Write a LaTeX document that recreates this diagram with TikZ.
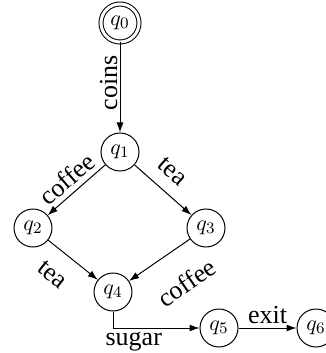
\documentclass[tikz,border=0pt]{standalone}
\usepackage{fontspec}
\setmainfont{Liberation Serif}
\usetikzlibrary{positioning}
\usetikzlibrary{arrows.meta}
\newcommand{\Istate}{q}
\tikzstyle{st} = [circle,draw=black,inner sep=1pt,minimum size=19pt, line width=0.5pt, font=\fontsize{11}{11}\selectfont]
\tikzstyle{stI} = [st, double, double distance=1.5pt]
\tikzstyle{trans} = [-{Latex[length=5pt,width=3.5pt]}, line width=0.5pt]
\tikzstyle{lbl} = [font=\fontsize{13}{13}\selectfont, inner sep=1pt]

\begin{document}
\begin{tikzpicture}[on grid]
\useasboundingbox (-60pt,11.5pt) rectangle (103pt,-165pt);

% Define nodes
\node[stI]                                         (q0) {$\Istate_0$};
\node[st, below = 64.5pt of q0]                    (q1) {$\Istate_1$};
\node[st, below left = 38pt and 43.5pt of q1]      (q2) {$\Istate_2$};
\node[st, below right = 38pt and 43pt of q1]       (q3) {$\Istate_3$};
\node[st, below right = 32pt and 40pt of q2]       (q4) {$\Istate_4$};
\node[st, below right = 18pt and 53pt of q4]       (q5) {$\Istate_5$};
\node[st, right = 48.5pt of q5]                    (q6) {$\Istate_6$};

% Edges
\draw[trans] (q0) -- node[lbl, midway, rotate=90, above=2.3pt] {coins} (q1);
\draw[trans] (q1) -- node[lbl, sloped, above=1.5pt] {coffee} (q2);
\draw[trans] (q1) -- node[lbl, sloped, pos=0.43, above=5pt] {tea} (q3);
\draw[trans] (q2) -- node[lbl, sloped, pos=0.39, below=7pt] {tea} (q4);
\draw[trans] (q3) -- node[lbl, sloped, pos=0.37, below=11pt] {coffee} (q4);
\draw[trans] (q4) |- node[lbl, pos=0.62, below=0.8pt] {sugar} (q5);
\draw[trans] (q5) -- node[lbl, above=1pt] {exit} (q6);

\end{tikzpicture}
\end{document}
